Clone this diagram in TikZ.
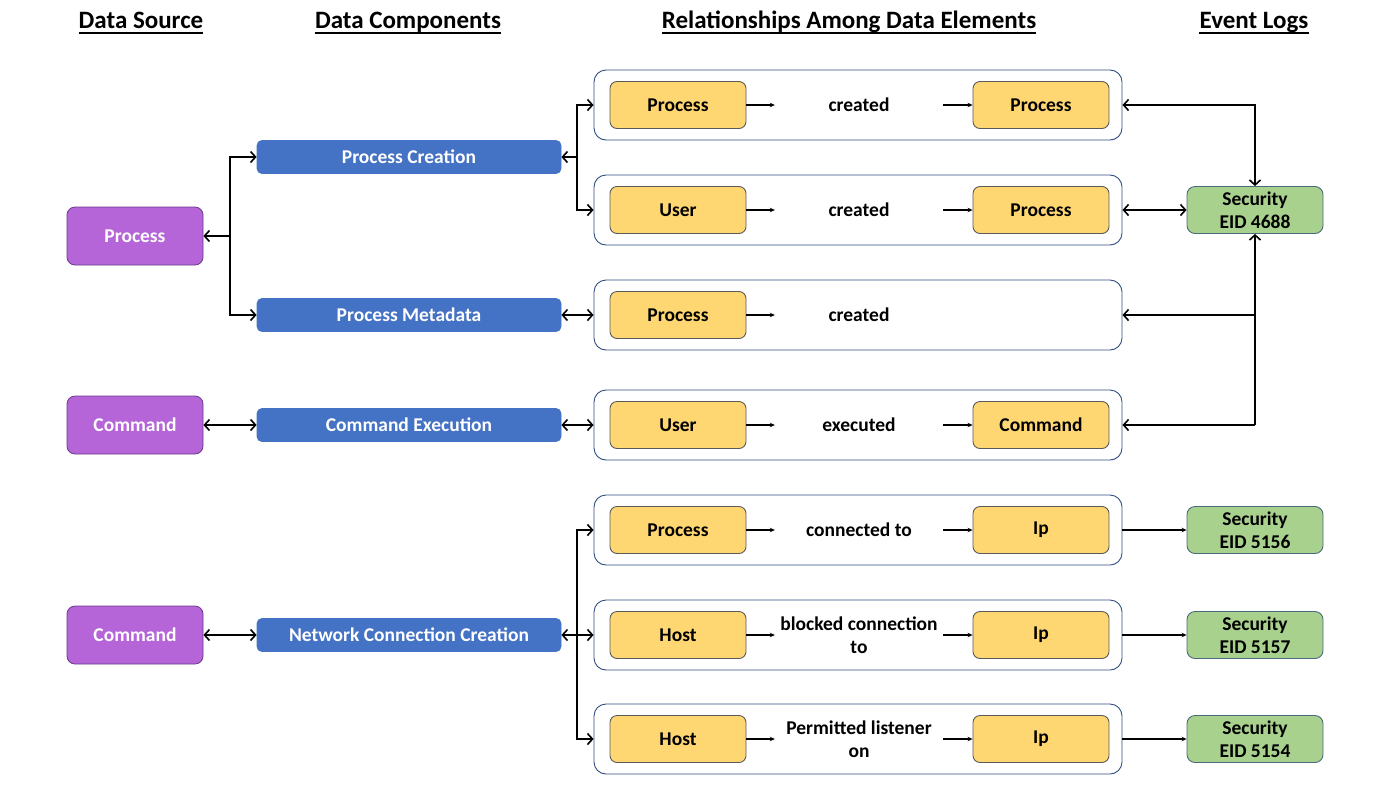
\documentclass[tikz,border=0pt]{standalone}
\usepackage{fontspec}
\setmainfont{Carlito}
\usetikzlibrary{arrows.meta}
\usetikzlibrary{positioning}

\definecolor{srccol}{HTML}{B565D8}
\definecolor{srcline}{HTML}{6B3A8A}
\definecolor{compcol}{HTML}{4472C4}
\definecolor{entcol}{HTML}{FFD772}
\definecolor{entline}{HTML}{5A5A5A}
\definecolor{relline}{HTML}{2F4C80}
\definecolor{logcol}{HTML}{A9D18E}
\definecolor{logline}{HTML}{4A6A7E}

\tikzset{
  txt/.style={font=\bfseries\fontsize{19.5}{23}\selectfont},
  head/.style={font=\bfseries\fontsize{25}{30}\selectfont, inner sep=0pt, anchor=base},
  srcbox/.style={txt, text=white, fill=srccol, draw=srcline, line width=0.8pt,
    rounded corners=8pt, minimum width=136pt, minimum height=58pt},
  compbox/.style={txt, text=white, fill=compcol, draw=compcol, line width=0.8pt,
    rounded corners=5pt, minimum width=304pt, minimum height=33pt},
  relbox/.style={draw=relline, line width=0.9pt, rounded corners=12pt,
    minimum width=528pt, minimum height=70pt},
  entbox/.style={txt, fill=entcol, draw=entline, line width=0.9pt,
    rounded corners=7pt, minimum width=136pt, minimum height=47pt},
  verb/.style={txt, minimum width=168pt, align=center, inner sep=0pt},
  logbox/.style={txt, fill=logcol, draw=logline, line width=0.9pt, align=center,
    rounded corners=8pt, minimum width=136pt, minimum height=47pt},
  big/.style={line width=1.8pt, >={Straight Barb[length=5pt,width=11pt,line width=1.6pt]}},
  small/.style={line width=1.3pt, -{Stealth[length=5pt,width=4.5pt]}}
}

\begin{document}
\begin{tikzpicture}[x=1pt,y=-1pt]
  \useasboundingbox (0,0) rectangle (1391,790);
  % intestazioni
  \node[head] (h1) at (141,28) {Data Source};
  \node[head] (h2) at (408,28) {Data Components};
  \node[head] (h3) at (849,28) {Relationships Among Data Elements};
  \node[head] (h4) at (1254,28) {Event Logs};
  \foreach \h in {h1,h2,h3,h4}
    \draw[line width=2pt] ([yshift=-4.5pt]\h.base west) -- ([yshift=-4.5pt]\h.base east);

  % sorgenti
  \node[srcbox] (sP)  at (135,236) {Process};
  \node[srcbox] (sC1) at (135,425) {Command};
  \node[srcbox] (sC2) at (135,635) {Command};

  % componenti
  \node[compbox] (cPC) at (409,157) {Process Creation};
  \node[compbox] (cPM) at (409,315) {Process Metadata};
  \node[compbox] (cCE) at (409,425) {Command Execution};
  \node[compbox] (cNC) at (409,635) {Network Connection Creation};

  % relazioni
  \node[relbox] (r1) at (858,105) {};
  \node[relbox] (r2) at (858,210) {};
  \node[relbox] (r3) at (858,315) {};
  \node[relbox] (r4) at (858,425) {};
  \node[relbox] (r5) at (858,530) {};
  \node[relbox] (r6) at (858,635) {};
  \node[relbox] (r7) at (858,739) {};

  \node[entbox] (r1a) at (678,105) {Process};
  \node[verb]   (r1v) at (859,105) {created};
  \node[entbox] (r1b) at (1041,105) {Process};
  \node[entbox] (r2a) at (678,210) {User};
  \node[verb]   (r2v) at (859,210) {created};
  \node[entbox] (r2b) at (1041,210) {Process};
  \node[entbox] (r3a) at (678,315) {Process};
  \node[verb]   (r3v) at (859,315) {created};
  \node[entbox] (r4a) at (678,425) {User};
  \node[verb]   (r4v) at (859,425) {executed};
  \node[entbox] (r4b) at (1041,425) {Command};
  \node[entbox] (r5a) at (678,530) {Process};
  \node[verb]   (r5v) at (859,530) {connected to};
  \node[entbox] (r5b) at (1041,530) {Ip};
  \node[entbox] (r6a) at (678,635) {Host};
  \node[verb]   (r6v) at (859,635) {blocked connection\\to};
  \node[entbox] (r6b) at (1041,635) {Ip};
  \node[entbox] (r7a) at (678,739) {Host};
  \node[verb]   (r7v) at (859,739) {Permitted listener\\on};
  \node[entbox] (r7b) at (1041,739) {Ip};

  \foreach \r in {r1,r2,r4,r5,r6,r7}{
    \draw[small] (\r a.east) -- (\r v.west);
    \draw[small] (\r v.east) -- (\r b.west);
  }
  \draw[small] (r3a.east) -- (r3v.west);

  % event log
  \node[logbox] (e1) at (1255,210) {Security\\EID 4688};
  \node[logbox] (e2) at (1255,530) {Security\\EID 5156};
  \node[logbox] (e3) at (1255,635) {Security\\EID 5157};
  \node[logbox] (e4) at (1255,739) {Security\\EID 5154};

  % collegamenti a sinistra
  \coordinate (jP) at (230,236);
  \draw[big,<-] (sP.east) -- (jP);
  \draw[big,->] (jP) |- (cPC.west);
  \draw[big,->] (jP) |- (cPM.west);
  \draw[big,<->] (sC1.east) -- (cCE.west);
  \draw[big,<->] (sC2.east) -- (cNC.west);

  \coordinate (jPC) at (577,157);
  \draw[big,<-] (cPC.east) -- (jPC);
  \draw[big,->] (jPC) |- (r1.west);
  \draw[big,->] (jPC) |- (r2.west);
  \draw[big,<->] (cPM.east) -- (r3.west);
  \draw[big,<->] (cCE.east) -- (r4.west);

  \coordinate (jNC) at (577,635);
  \draw[big,<-] (cNC.east) -- (jNC);
  \draw[big,->] (jNC) -- (r6.west);
  \draw[big,->] (jNC) |- (r5.west);
  \draw[big,->] (jNC) |- (r7.west);

  % collegamenti a destra
  \draw[big,<->] (r1.east) -| (e1.north);
  \draw[big,<->] (r2.east) -- (e1.west);
  \coordinate (jE3) at (e1.south |- r3.east);
  \coordinate (jE4) at (e1.south |- r4.east);
  \draw[big,->] (jE4) -- (e1.south);
  \draw[big,->] (jE3) -- (r3.east);
  \draw[big,->] (jE4) -- (r4.east);

  \draw[small] (r5.east) -- (e2.west);
  \draw[small] (r6.east) -- (e3.west);
  \draw[small] (r7.east) -- (e4.west);
\end{tikzpicture}
\end{document}
